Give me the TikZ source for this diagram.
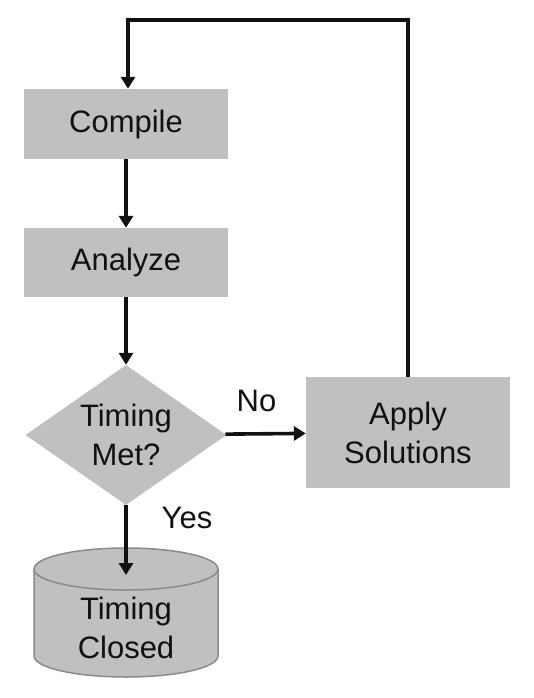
\documentclass[tikz,border=0pt]{standalone}
\usepackage{fontspec}
\setmainfont{Liberation Sans}
\usetikzlibrary{arrows.meta,shapes.geometric}
\definecolor{boxgray}{HTML}{C0C0C0}
\definecolor{edgegray}{HTML}{8A8A8A}
\definecolor{ink}{HTML}{111111}
\begin{document}
\begin{tikzpicture}[x=1pt,y=-1pt,
  lbl/.style={font=\fontsize{31}{39}\selectfont, text=ink, align=center, inner sep=0pt},
  procbox/.style={lbl, fill=boxgray, minimum width=204pt},
  decision/.style={lbl, diamond, fill=boxgray, aspect=1.436, minimum width=201pt, minimum height=140pt},
  arr/.style={draw=ink, line width=3.6pt, -{Triangle[length=12pt,width=14pt]}},
]
\useasboundingbox (0,0) rectangle (534,698);
% process boxes
\node[procbox, minimum height=70pt] (compile) at (126,124) {Compile};
\node[procbox, minimum height=69pt] (analyze) at (126,262.5) {Analyze};
\node[decision] (timing) at (126,435) {Timing\\Met?};
\node[procbox, minimum height=111pt] (apply) at (408,432.5) {Apply\\Solutions};
% cylinder
\fill[boxgray] (34,569) -- (34,656) arc[start angle=180,end angle=360,x radius=92pt,y radius=21pt] -- (218,569) arc[start angle=0,end angle=180,x radius=92pt,y radius=21pt] -- cycle;
\draw[edgegray, line width=1.5pt] (34,569) -- (34,656) arc[start angle=180,end angle=360,x radius=92pt,y radius=21pt] -- (218,569) arc[start angle=0,end angle=180,x radius=92pt,y radius=21pt];
\draw[edgegray, line width=1.5pt] (34,569) arc[start angle=180,end angle=360,x radius=92pt,y radius=21pt];
\node[lbl] (closed) at (126,628) {Timing\\Closed};
\coordinate (cyltop) at (126,575);
% connectors
\draw[arr] (compile) -- (analyze);
\draw[arr] (analyze) -- (timing);
\draw[arr] (timing) -- (apply);
\draw[arr] (timing.south) -- (cyltop);
\coordinate (corner) at (128,20);
\draw[arr] (apply.north) |- (corner) -- (compile.north -| corner);
% labels
\node[lbl] (no) at (256.5,400.5) {No};
\node[lbl] (yes) at (187,518) {Yes};
\end{tikzpicture}
\end{document}
